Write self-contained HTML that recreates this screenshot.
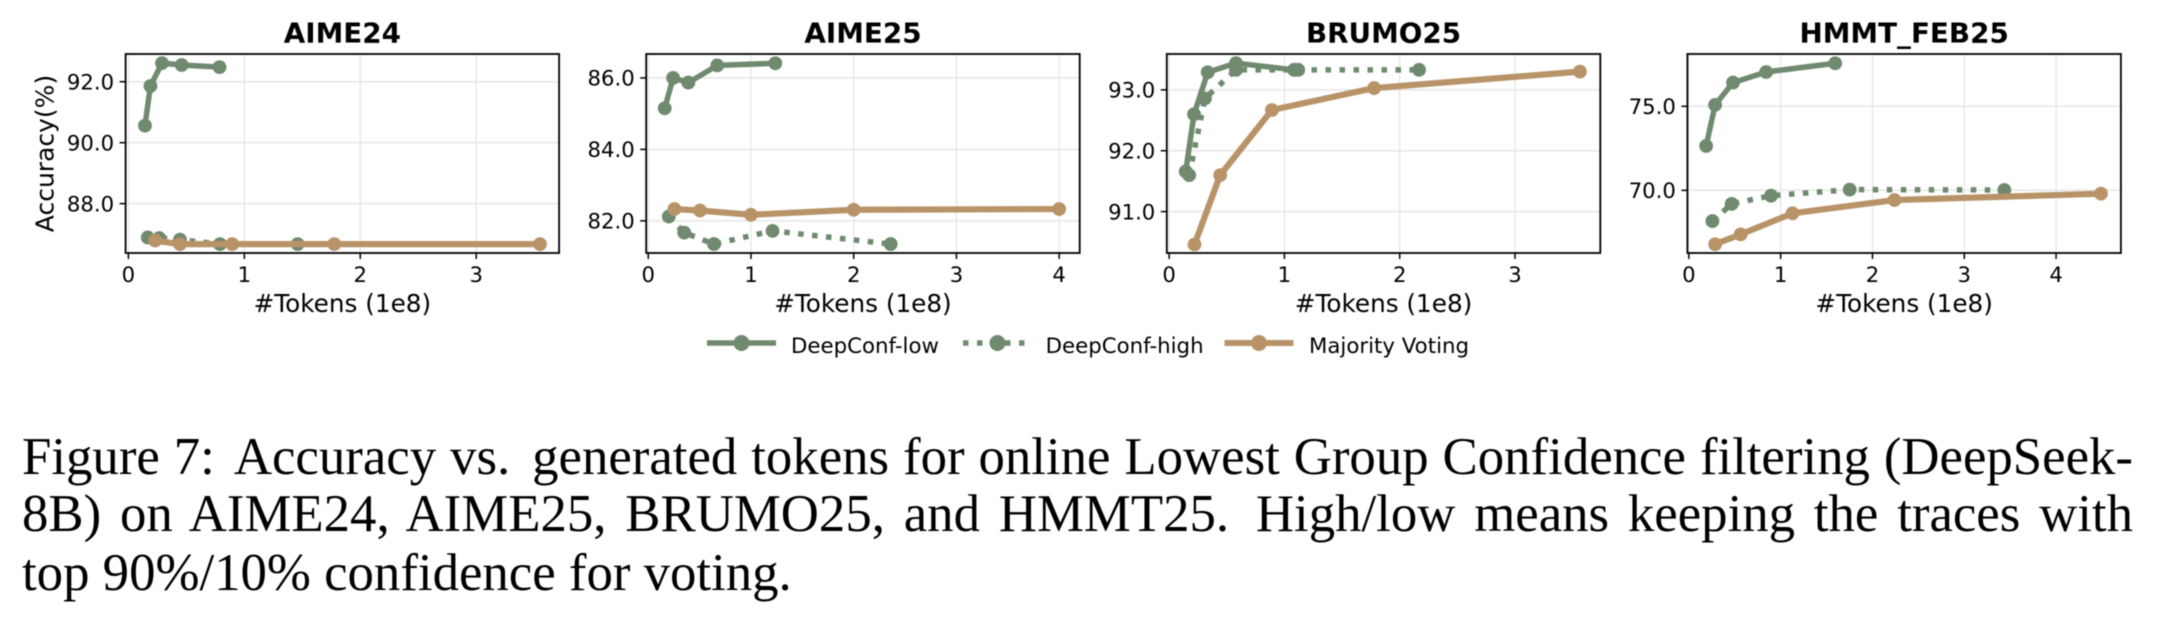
<!DOCTYPE html>
<html lang="en">
<head>
<meta charset="utf-8">
<title>Figure 7: Accuracy vs. generated tokens</title>
<style>
  html, body { margin: 0; padding: 0; background: #fff; }
  #page { position: relative; width: 2164px; height: 632px; overflow: hidden; background: #fff; filter: blur(0.45px); }
  svg { position: absolute; left: 0; top: 0; }
  svg text { font-family: "DejaVu Sans", sans-serif; fill: #000; }
  .cap { position: absolute; left: 22px; height: 58px; line-height: 58px; white-space: normal;
         font-family: "Liberation Serif", "Times New Roman", serif; font-size: 52.8px; color: #000; }
  .just { width: 2111px; text-align: justify; text-align-last: justify; }
  .gap { margin-right: 8px; }
</style>
</head>
<body>
<div id="page">
  <svg id="chart" width="2164" height="632" viewBox="0 0 2164 632" xmlns="http://www.w3.org/2000/svg"></svg>
  <div class="cap just" style="top:428px">Figure <span class="gap">7:</span> Accuracy <span class="gap">vs.</span> generated tokens for online Lowest Group Confidence filtering (DeepSeek-</div>
  <div class="cap just" style="top:485px">8B) on AIME24, AIME25, BRUMO25, and <span class="gap">HMMT25.</span> High/low means keeping the traces with</div>
  <div class="cap" style="top:544px">top 90%/10% confidence for voting.</div>
</div>
<script>
// ---- AIME24 ----
const aime24LowX = [0.143, 0.19, 0.29, 0.46, 0.786];
const aime24LowY = [90.56, 91.86, 92.61, 92.55, 92.48];
const aime24HighX = [0.167, 0.266, 0.445, 0.79, 1.46];
const aime24HighY = [86.89, 86.87, 86.82, 86.67, 86.67];
const aime24VoteX = [0.23, 0.445, 0.896, 1.776, 3.55];
const aime24VoteY = [86.79, 86.67, 86.67, 86.67, 86.67];
const aime24XTicks = [0, 1, 2, 3];
const aime24YTicks = [88, 90, 92];
const aime24XRange = [-0.024, 3.715];
const aime24YRange = [86.38, 92.91];

// ---- AIME25 ----
const aime25LowX = [0.16, 0.242, 0.39, 0.672, 1.237];
const aime25LowY = [85.15, 86.0, 85.87, 86.35, 86.41];
const aime25HighX = [0.2, 0.35, 0.64, 1.21, 2.36];
const aime25HighY = [82.12, 81.67, 81.35, 81.72, 81.35];
const aime25VoteX = [0.255, 0.504, 1.0, 2.0, 4.0];
const aime25VoteY = [82.33, 82.29, 82.17, 82.31, 82.33];
const aime25XTicks = [0, 1, 2, 3, 4];
const aime25YTicks = [82, 84, 86];
const aime25XRange = [-0.02, 4.2];
const aime25YRange = [81.1, 86.67];

// ---- BRUMO25 ----
const brumoLowX = [0.144, 0.216, 0.335, 0.58, 1.084];
const brumoLowY = [91.66, 92.6, 93.29, 93.44, 93.33];
const brumoHighX = [0.174, 0.311, 0.58, 1.12, 2.168];
const brumoHighY = [91.6, 92.86, 93.33, 93.33, 93.33];
const brumoVoteX = [0.22, 0.443, 0.892, 1.778, 3.563];
const brumoVoteY = [90.46, 91.6, 92.67, 93.03, 93.3];
const brumoXTicks = [0, 1, 2, 3];
const brumoYTicks = [91, 92, 93];
const brumoXRange = [-0.02, 3.74];
const brumoYRange = [90.32, 93.59];

// ---- HMMT_FEB25 ----
const hmmtLowX = [0.188, 0.286, 0.481, 0.842, 1.594];
const hmmtLowY = [72.64, 75.08, 76.41, 77.04, 77.56];
const hmmtHighX = [0.256, 0.466, 0.895, 1.752, 3.436];
const hmmtHighY = [68.17, 69.19, 69.68, 70.04, 70.02];
const hmmtVoteX = [0.286, 0.564, 1.128, 2.24, 4.489];
const hmmtVoteY = [66.79, 67.38, 68.63, 69.42, 69.8];
const hmmtXTicks = [0, 1, 2, 3, 4];
const hmmtYTicks = [70, 75];
const hmmtXRange = [-0.016, 4.706];
const hmmtYRange = [66.27, 78.11];

const panelTitles = ['AIME24', 'AIME25', 'BRUMO25', 'HMMT_FEB25'];
const legendLabels = ['DeepConf-low', 'DeepConf-high', 'Majority Voting'];

const GREEN = '#6f8a6e';
const TAN = '#b89368';
const GRID = '#e6e6e6';
const NS = 'http://www.w3.org/2000/svg';
const svg = document.getElementById('chart');

function make(tag, attrs, parent, text) {
  const el = document.createElementNS(NS, tag);
  for (const k in attrs) el.setAttribute(k, attrs[k]);
  if (text !== undefined) el.textContent = text;
  parent.appendChild(el);
  return el;
}

function drawSeries(group, xs, ys, sx, sy, color, width, dashed, name) {
  const points = xs.map((x, i) => sx(x) + ',' + sy(ys[i])).join(' ');
  const line = make('polyline', { points: points, fill: 'none', stroke: color, 'stroke-width': width, 'stroke-linejoin': 'round', 'stroke-dasharray': dashed ? '5.5 8.5' : 'none' }, group);
  
  
  xs.forEach((x, i) => {
    const pt = make('circle', { cx: sx(x), cy: sy(ys[i]), r: 6.9, fill: color }, group);
    
    
  });
}

function drawPanel(index, title, xRange, yRange, xTicks, yTicks, low, high, vote, showYLabel) {
  const left = 125.6 + 520.6 * index, right = left + 433.5, top = 54, bottom = 253;
  const sx = v => left + (v - xRange[0]) / (xRange[1] - xRange[0]) * (right - left);
  const sy = v => bottom - (v - yRange[0]) / (yRange[1] - yRange[0]) * (bottom - top);

  const g = make('g', {}, svg);
  
  

  xTicks.forEach(t => {
    const grid = make('line', { x1: sx(t), x2: sx(t), y1: top, y2: bottom, stroke: GRID, 'stroke-width': 1.3 }, g);
    
    
    const tick = make('line', { x1: sx(t), x2: sx(t), y1: bottom, y2: bottom + 6, stroke: '#000', 'stroke-width': 1.5 }, g);
    
    
    const label = make('text', { x: sx(t), y: 282, 'font-size': 21.2, 'text-anchor': 'middle' }, g, String(t));
    
    
  });
  yTicks.forEach(t => {
    const grid = make('line', { x1: left, x2: right, y1: sy(t), y2: sy(t), stroke: GRID, 'stroke-width': 1.5 }, g);
    
    
    const tick = make('line', { x1: left - 6, x2: left, y1: sy(t), y2: sy(t), stroke: '#000', 'stroke-width': 1.5 }, g);
    
    
    const label = make('text', { x: left - 11.5, y: sy(t) + 7.7, 'font-size': 21.2, 'text-anchor': 'end' }, g, t.toFixed(1));
    
    
  });

  drawSeries(g, low[0], low[1], sx, sy, GREEN, 5.5, false, 'deepconf-low');
  drawSeries(g, high[0], high[1], sx, sy, GREEN, 5.5, true, 'deepconf-high');
  drawSeries(g, vote[0], vote[1], sx, sy, TAN, 6.2, false, 'majority-voting');

  const frame = make('rect', { x: left, y: top, width: right - left, height: bottom - top, fill: 'none', stroke: '#000', 'stroke-width': 1.8 }, g);
  
  

  const cx = (left + right) / 2;
  const titleEl = make('text', { x: cx, y: 42.5, 'font-size': 27.8, 'font-weight': 'bold', 'text-anchor': 'middle' }, g, title);
  
  
  const xLabel = make('text', { x: cx, y: 312, 'font-size': 24.7, 'text-anchor': 'middle' }, g, '#Tokens (1e8)');
  
  
  if (showYLabel) {
    const yLabel = make('text', { x: 0, y: 0, 'font-size': 25, 'text-anchor': 'middle', transform: 'translate(53.5,153.5) rotate(-90)' }, g, 'Accuracy(%)');
    
    
  }
}

drawPanel(0, panelTitles[0], aime24XRange, aime24YRange, aime24XTicks, aime24YTicks, [aime24LowX, aime24LowY], [aime24HighX, aime24HighY], [aime24VoteX, aime24VoteY], true);
drawPanel(1, panelTitles[1], aime25XRange, aime25YRange, aime25XTicks, aime25YTicks, [aime25LowX, aime25LowY], [aime25HighX, aime25HighY], [aime25VoteX, aime25VoteY], false);
drawPanel(2, panelTitles[2], brumoXRange, brumoYRange, brumoXTicks, brumoYTicks, [brumoLowX, brumoLowY], [brumoHighX, brumoHighY], [brumoVoteX, brumoVoteY], false);
drawPanel(3, panelTitles[3], hmmtXRange, hmmtYRange, hmmtXTicks, hmmtYTicks, [hmmtLowX, hmmtLowY], [hmmtHighX, hmmtHighY], [hmmtVoteX, hmmtVoteY], false);

function drawLegendEntry(lineStart, textStart, label, color, width, dashed) {
  const g = make('g', {}, svg);
  
  
  make('line', { x1: lineStart, x2: lineStart + 69, y1: 343, y2: 343, stroke: color, 'stroke-width': width, 'stroke-dasharray': dashed ? '5.5 8.5' : 'none' }, g);
  make('circle', { cx: lineStart + 34.5, cy: 343, r: 8, fill: color }, g);
  make('text', { x: textStart, y: 353.2, 'font-size': 21.3 }, g, label);
}
drawLegendEntry(707, 791, legendLabels[0], GREEN, 5.5, false);
drawLegendEntry(963, 1045.6, legendLabels[1], GREEN, 5.5, true);
drawLegendEntry(1224.5, 1309, legendLabels[2], TAN, 6, false);
</script>
</body>
</html>
